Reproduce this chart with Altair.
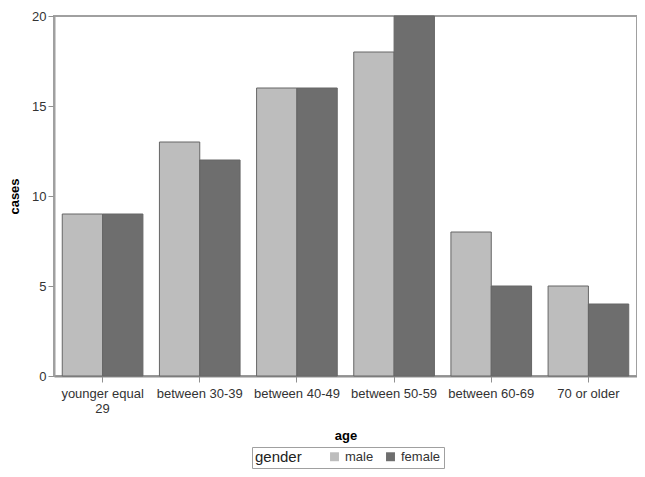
import altair as alt
import pandas as pd

ages = ["younger equal 29", "between 30-39", "between 40-49", "between 50-59", "between 60-69", "70 or older"]
male = [9, 13, 16, 18, 8, 5]
female = [9, 12, 16, 20, 5, 4]
genders = ["male", "female"]

rows = []
for a, m, f in zip(ages, male, female):
    rows.append({"age": a, "gender": "male", "cases": m})
    rows.append({"age": a, "gender": "female", "cases": f})
df = pd.DataFrame(rows)

font = "Liberation Sans"

chart = alt.Chart(df).mark_bar(stroke="#666666", strokeWidth=1).encode(
    x=alt.X("age:N", sort=ages, title="age",
            scale=alt.Scale(paddingInner=0.17, paddingOuter=0.085),
            axis=alt.Axis(labelAngle=0, labelFontSize=13, labelColor="#333333",
                          titleFontSize=13, titleFontWeight="bold", titlePadding=14,
                          labelExpr="datum.value == 'younger equal 29' ? ['younger equal', '29'] : datum.value",
                          domainColor="#909090", domainWidth=2, tickColor="#909090", tickSize=6,
                          labelPadding=5)),
    xOffset=alt.XOffset("gender:N", sort=genders),
    y=alt.Y("cases:Q", title="cases",
            scale=alt.Scale(domain=[0, 20], nice=False),
            axis=alt.Axis(values=[0, 5, 10, 15, 20], grid=False, labelFontSize=13,
                          labelColor="#333333", titleFontSize=13, titleFontWeight="bold",
                          titlePadding=10, domainColor="#a0a0a0", domainWidth=2,
                          tickColor="#909090", tickSize=6)),
    color=alt.Color("gender:N", sort=genders,
                    scale=alt.Scale(domain=genders, range=["#bdbdbd", "#6e6e6e"]),
                    legend=alt.Legend(orient="none", legendX=198, legendY=431,
                                      direction="horizontal", titleOrient="left",
                                      title="gender", titleFontSize=15, titleFontWeight="normal",
                                      titleColor="#222222", labelColor="#333333",
                                      labelFontSize=13, symbolType="square", symbolSize=80,
                                      symbolStrokeWidth=0, strokeColor="#a0a0a0", padding=3,
                                      titlePadding=26, columnPadding=10, titleAnchor="start")),
).properties(
    width=583, height=360,
).configure(
    font=font,
    padding={"left": 46, "top": 8, "right": 0, "bottom": 93},
    autosize=alt.AutoSizeParams(type="none"),
).configure_view(
    stroke="#a0a0a0", strokeWidth=2
)

chart.save("out.html", embed_options={"renderer": "svg", "actions": False})
